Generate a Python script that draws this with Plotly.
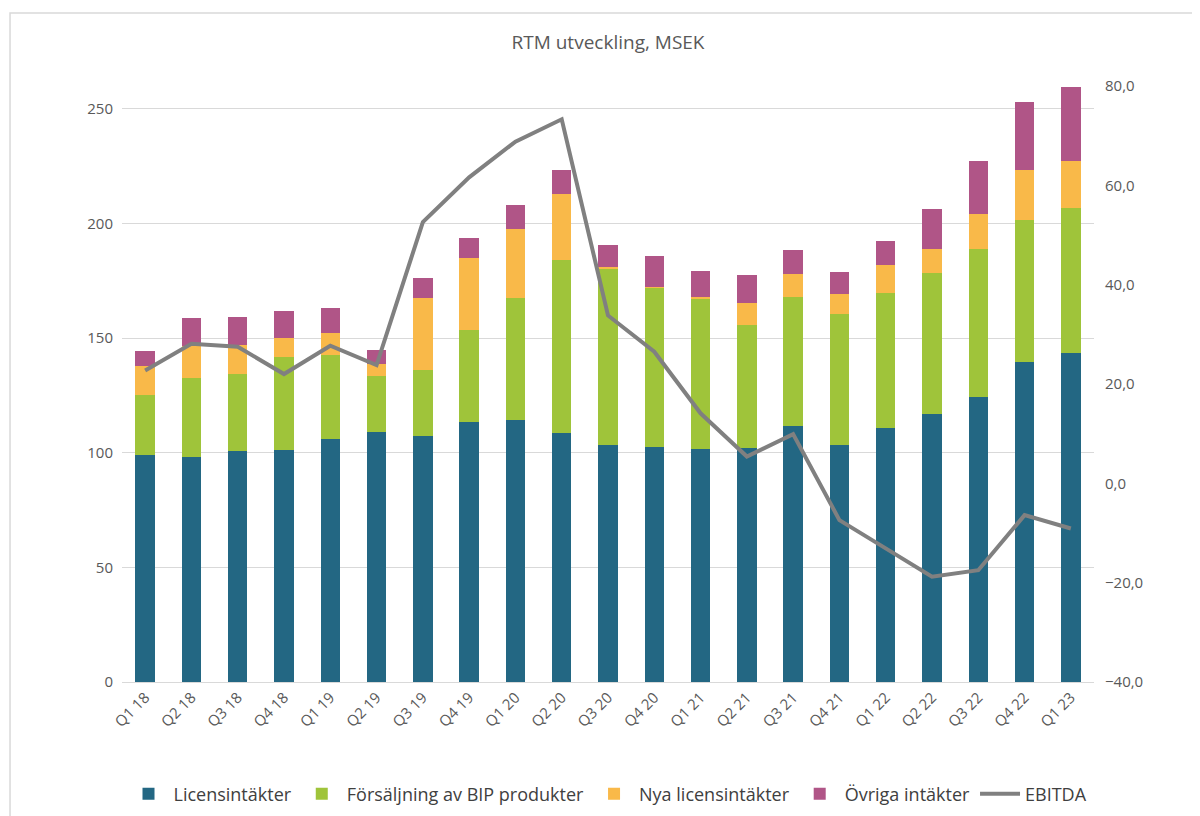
import plotly.graph_objects as go

quarters = ["Q1 18", "Q2 18", "Q3 18", "Q4 18", "Q1 19", "Q2 19", "Q3 19", "Q4 19",
            "Q1 20", "Q2 20", "Q3 20", "Q4 20", "Q1 21", "Q2 21", "Q3 21", "Q4 21",
            "Q1 22", "Q2 22", "Q3 22", "Q4 22", "Q1 23"]

licensintakter = [99.1, 98.3, 100.7, 101.1, 106.2, 109.2, 107.1, 113.4,
                  114.1, 108.7, 103.6, 102.7, 101.6, 102.3, 111.6, 103.6,
                  110.7, 116.7, 124.3, 139.4, 143.7]
forsaljning_bip = [26.1, 34.5, 33.8, 40.5, 36.4, 24.4, 28.8, 40.0,
                   53.3, 75.3, 77.0, 69.2, 65.8, 53.6, 56.5, 56.8,
                   59.2, 61.6, 64.5, 62.0, 62.9]
nya_licensintakter = [12.5, 13.8, 12.5, 8.4, 9.5, 5.0, 31.6, 31.4,
                      30.1, 29.1, 0.3, 0.5, 0.5, 9.3, 9.8, 9.0,
                      12.0, 10.5, 15.4, 21.9, 20.9]
ovriga_intakter = [6.8, 12.2, 12.2, 11.7, 10.9, 6.4, 8.9, 8.9,
                   10.5, 10.2, 9.6, 13.4, 11.6, 12.2, 10.4, 9.6,
                   10.5, 17.6, 22.9, 29.8, 31.9]
ebitda = [22.7, 28.1, 27.5, 22.0, 27.7, 23.8, 52.6, 61.6,
          68.8, 73.3, 33.8, 26.5, 14.1, 5.4, 9.9, -7.4,
          -13.1, -18.8, -17.5, -6.4, -9.1]

left_ticks = [0, 50, 100, 150, 200, 250]
right_ticks = [-40, -20, 0, 20, 40, 60, 80]

FONT = "Open Sans"
GRAY = "#595959"

fig = go.Figure()
series = [
    ("Licensintäkter", licensintakter, "#236783"),
    ("Försäljning av BIP produkter", forsaljning_bip, "#9FC43A"),
    ("Nya licensintäkter", nya_licensintakter, "#F9B949"),
    ("Övriga intäkter", ovriga_intakter, "#B05587"),
]
for name, vals, col in series:
    fig.add_trace(go.Bar(x=quarters, y=vals, name=name, marker_color=col,
                         marker_line_width=0))

fig.add_trace(go.Scatter(x=quarters, y=ebitda, name="EBITDA", yaxis="y2",
                         mode="lines", line=dict(color="#808080", width=4)))

fig.update_layout(
    width=1200, height=816,
    barmode="stack", bargap=0.58,
    separators=", ",
    paper_bgcolor="white", plot_bgcolor="white",
    margin=dict(l=114, r=114, t=78, b=142, autoexpand=False),
    font=dict(family=FONT, color=GRAY, size=15),
    title=dict(text="RTM utveckling, MSEK", x=0.5, xref="paper", xanchor="center",
               y=1 - 34 / 816, yanchor="middle",
               font=dict(family=FONT, size=19, color=GRAY)),
    xaxis=dict(tickangle=-45, showgrid=False, showline=True, linecolor="#D9D9D9",
               linewidth=1, ticks="", automargin=False,
               tickfont=dict(size=15, color=GRAY)),
    yaxis=dict(range=[0, 260], tickvals=left_ticks, showgrid=True, gridcolor="#D9D9D9",
               gridwidth=1, zeroline=False, showline=False, ticks="", automargin=False,
               ticklabelstandoff=8, tickfont=dict(size=15, color=GRAY)),
    yaxis2=dict(range=[-40, 80], tickvals=right_ticks, tickformat=".1f",
                overlaying="y", side="right", showgrid=False, zeroline=False,
                showline=False, ticks="", ticklabelstandoff=10, automargin=False,
                tickfont=dict(size=15, color=GRAY)),
    legend=dict(orientation="h", x=0.5, xanchor="center", y=-0.188, yanchor="middle",
                font=dict(size=18, color="#404040"), traceorder="normal",
                itemwidth=40),
    showlegend=True,
)

fig.add_shape(type="rect", xref="paper", yref="paper",
              x0=-0.1152, x1=1.3, y0=-0.4, y1=1.1225,
              line=dict(color="#D9D9D9", width=1.5), fillcolor="rgba(0,0,0,0)",
              layer="below")

fig.write_html("out.html")
